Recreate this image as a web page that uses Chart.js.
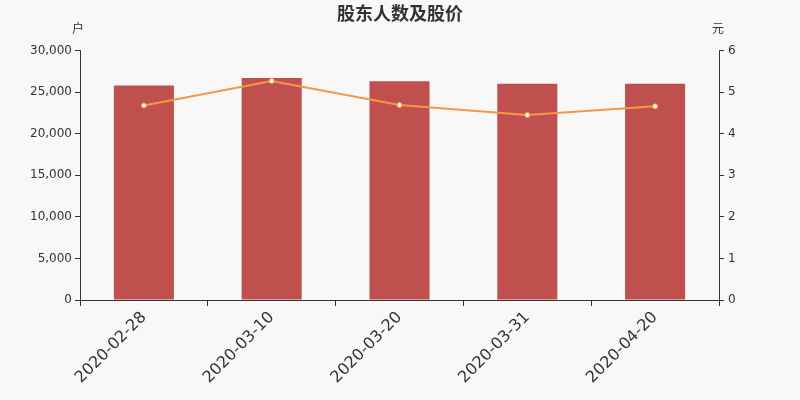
<!DOCTYPE html>
<html>
<head>
<meta charset="utf-8">
<title>股东人数及股价</title>
<script src="https://cdn.jsdelivr.net/npm/chart.js@4/dist/chart.umd.min.js"></script>
<style>
  body { margin: 0; background: #f8f8f8; }
  #wrap { width: 800px; height: 400px; position: relative; }
</style>
</head>
<body>
<div id="wrap"><canvas id="chart"></canvas></div>
<script>
// data
const dates = ['2020-02-28', '2020-03-10', '2020-03-20', '2020-03-31', '2020-04-20'];
const holders = [25800, 26700, 26300, 26000, 26000];   // 户
const prices = [4.68, 5.27, 4.69, 4.45, 4.66];         // 元

const FONT = "'DejaVu Sans', 'Noto Sans CJK SC', sans-serif";
const INK = '#333333';

// unit labels above the two y axes
const unitLabels = {
    id: 'unitLabels',
    afterDraw(chart) {
        const ctx = chart.ctx;
        const l = chart.scales.y;
        const r = chart.scales.y1;
        ctx.save();
        ctx.fillStyle = INK;
        ctx.font = "12px 'Noto Sans CJK SC', sans-serif";
        ctx.textAlign = 'center';
        ctx.textBaseline = 'middle';
        ctx.fillText('户', l.right - 2, 28);
        ctx.fillText('元', r.left - 1, 28);
        ctx.restore();
    }
};

const ctx = document.getElementById('chart').getContext('2d');
new Chart(ctx, {
    data: {
        labels: dates,
        datasets: [
            {
                type: 'line',
                label: '股价',
                data: prices,
                yAxisID: 'y1',
                borderColor: '#f79646',
                borderWidth: 2,
                tension: 0,
                pointRadius: 2.5,
                pointBackgroundColor: '#ffffff',
                pointBorderColor: '#f79646',
                pointBorderWidth: 1,
                order: 0
            },
            {
                type: 'bar',
                label: '股东人数',
                data: holders,
                yAxisID: 'y',
                backgroundColor: '#c0504d',
                categoryPercentage: 1,
                barPercentage: 0.47,
                order: 1
            }
        ]
    },
    options: {
        responsive: true,
        maintainAspectRatio: false,
        animation: false,
        layout: { padding: { top: 0, left: 0, right: 0, bottom: 0 } },
        plugins: {
            legend: { display: false },
            tooltip: { enabled: false },
            title: {
                display: true,
                text: '股东人数及股价',
                color: INK,
                font: { family: "'Noto Sans CJK SC', sans-serif", size: 18, weight: 'bold' },
                padding: { top: 2, bottom: 27 }
            }
        },
        scales: {
            x: {
                offset: true,
                grid: { display: true, offset: true, drawOnChartArea: false, drawTicks: true, tickLength: 6, color: INK },
                border: { color: INK, width: 1 },
                ticks: {
                    color: INK,
                    font: { family: FONT, size: 16 },
                    maxRotation: 45,
                    minRotation: 45,
                    padding: 2
                },
                afterFit(scale) { scale.height = 100; }
            },
            y: {
                position: 'left',
                min: 0,
                max: 30000,
                grid: { drawOnChartArea: false, drawTicks: true, tickLength: 5, color: INK },
                border: { color: INK, width: 1 },
                ticks: {
                    stepSize: 5000,
                    color: INK,
                    font: { family: FONT, size: 12 },
                    padding: 3,
                    callback: v => v.toLocaleString('en-US')
                },
                afterFit(scale) { scale.width = 80; }
            },
            y1: {
                position: 'right',
                min: 0,
                max: 6,
                grid: { drawOnChartArea: false, drawTicks: true, tickLength: 5, color: INK },
                border: { color: INK, width: 1 },
                ticks: {
                    stepSize: 1,
                    color: INK,
                    font: { family: FONT, size: 12 },
                    padding: 4
                },
                afterFit(scale) { scale.width = 81; }
            }
        }
    },
    plugins: [unitLabels]
});
</script>
</body>
</html>
